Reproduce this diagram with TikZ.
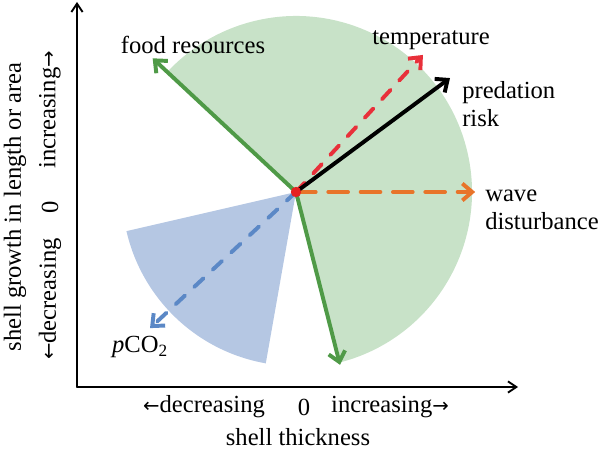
\documentclass[tikz,border=0pt]{standalone}
\usepackage{fontspec}
\setmainfont{Liberation Serif}
\newfontfamily\arrfont{DejaVu Sans}
\usetikzlibrary{calc,arrows.meta}
\definecolor{fillgreen}{HTML}{C8E2C8}
\definecolor{fillblue}{HTML}{B5C7E3}
\definecolor{arrgreen}{HTML}{4F9A47}
\definecolor{arrred}{HTML}{E8303A}
\definecolor{arrorange}{HTML}{E8742A}
\definecolor{arrblue}{HTML}{5B88C6}
\definecolor{dotred}{HTML}{E62020}
\newcommand{\larr}{{\arrfont\fontsize{14}{16}\selectfont ←}}
\newcommand{\rarr}{{\arrfont\fontsize{14}{16}\selectfont →}}

\begin{document}
\begin{tikzpicture}[line cap=round,line join=round,
  font=\fontsize{17.5}{20}\selectfont,
  lbl/.style={inner sep=0pt},
  axis/.style={line width=1.3pt,-{Straight Barb[length=6pt,width=8pt]}},
  factor/.style={line width=2.8pt,-{Straight Barb[length=7pt,width=12pt]}},
  dashfactor/.style={factor,dash pattern=on 9pt off 9pt}]
  \useasboundingbox (0,0) rectangle (15,11.45);
  \coordinate (O) at (7.4,6.65);
  \coordinate (orig) at (1.925,1.775);
  \coordinate (ytop) at (1.925,11.4);
  \coordinate (xend) at (12.95,1.775);
  \coordinate (food) at ($(O)+(137:4.9)$);
  \coordinate (shelldown) at ($(O)+(-75.7:4.46)$);
  \coordinate (temp) at ($(O)+(47.2:4.67)$);
  \coordinate (pred) at ($(O)+(36.5:4.79)$);
  \coordinate (wave) at ($(O)+(0:4.48)$);
  \coordinate (pco) at ($(O)+(223:4.99)$);
  \fill[fillgreen] (O) -- ++(-75:4.4) arc (-75:137:4.4) -- cycle;
  \fill[fillblue] (O) -- ++(193:4.35) arc (193:260:4.35) -- cycle;
  \draw[axis] (orig) -- (ytop);
  \draw[axis] (orig) -- (xend);
  \draw[factor,arrgreen] (O) -- (food);
  \draw[factor,arrgreen] (O) -- (shelldown);
  \draw[dashfactor,arrblue] (O) -- (pco);
  \draw[dashfactor,arrorange,dash pattern=on 14pt off 9pt] (O) -- (wave);
  \draw[dashfactor,arrred] (O) -- (temp);
  \draw[factor,black] (O) -- (pred);
  \fill[dotred] (O) circle (0.13);
  \node[lbl] (foodlbl) at (4.825,10.325) {food resources};
  \node[lbl] (templbl) at (10.775,10.45) {temperature};
  \node[lbl,anchor=west,align=left] (predlbl) at (11.55,8.85) {predation\\risk};
  \node[lbl,anchor=west,align=left] (wavelbl) at (12.125,6.2) {wave\\disturbance};
  \node[lbl] (pcolbl) at (3.5,2.775) {\textit{p}CO\textsubscript{2}};
  \node[lbl] (xdec) at (5.1,1.275) {\larr decreasing};
  \node[lbl] (xzero) at (7.6,1.275) {0};
  \node[lbl] (xinc) at (9.75,1.275) {increasing\rarr};
  \node[lbl] (xtitle) at (7.45,0.525) {shell thickness};
  \node[lbl,rotate=90] (ytitle) at (0.375,6.275) {shell growth in length or area};
  \node[lbl,rotate=90] (ydec) at (1.25,3.975) {\larr decreasing};
  \node[lbl,rotate=90] (yzero) at (1.25,6.275) {0};
  \node[lbl,rotate=90] (yinc) at (1.25,8.7) {increasing\rarr};
\end{tikzpicture}
\end{document}
